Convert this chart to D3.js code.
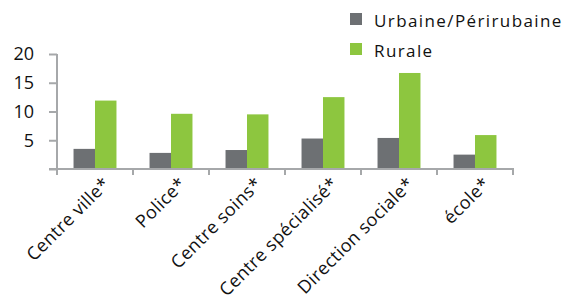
<!DOCTYPE html>
<html><head><meta charset="utf-8">
<script src="https://cdn.jsdelivr.net/npm/d3@7"></script>
<style>body{margin:0;background:#fff}svg{display:block}</style>
</head><body><svg id="c" width="568" height="303"></svg>
<script>
const categories = ["Centre ville*", "Police*", "Centre soins*", "Centre spécialisé*", "Direction sociale*", "école*"];
const seriesNames = ["Urbaine/Périrubaine", "Rurale"];
const urbaine = [3.5, 2.8, 3.3, 5.3, 5.4, 2.5];
const rurale = [11.9, 9.6, 9.5, 12.5, 16.7, 5.9];
const yTicks = [5, 10, 15, 20];
const colors = ["#6d7073", "#8dc63f"];

const font = "'Open Sans', sans-serif";
const svg = d3.select("#c");
const x0 = d3.scaleBand().domain(categories).range([57, 513]).paddingInner(0).paddingOuter(0);
const x1 = d3.scaleBand().domain(seriesNames).range([0, x0.bandwidth()]).paddingInner(0).paddingOuter(0.77);
const y = d3.scaleLinear().domain([0, 20]).range([169, 54]);
const axisColor = "#a6a8aa";

// bars
const data = categories.map((c, i) => ({c, vals: [urbaine[i], rurale[i]]}));
const g = svg.append("g");
g.selectAll("g.grp").data(data).join("g")
  .attr("transform", d => `translate(${x0(d.c)},0)`)
  .selectAll("rect").data(d => d.vals.map((v, j) => ({v, s: seriesNames[j], j})))
  .join("rect")
  .attr("x", d => x1(d.s)).attr("width", x1.bandwidth())
  .attr("y", d => y(d.v)).attr("height", d => y(0) - y(d.v))
  .attr("fill", d => colors[d.j]);

// y axis
const ya = svg.append("g").attr("transform", "translate(57,0)")
  .call(d3.axisLeft(y).tickValues([0, ...yTicks]).tickSize(8).tickPadding(15).tickFormat(d => d === 0 ? "" : d));
ya.select(".domain").attr("stroke", axisColor).attr("stroke-width", 2).attr("d", `M0,${y(20)}V${y(0)}`);
ya.selectAll(".tick line").attr("stroke", axisColor).attr("stroke-width", 2);
ya.selectAll(".tick text").attr("font-family", font).attr("font-size", 18).attr("font-weight", 500).attr("fill", "#111");

// x axis
const xa = svg.append("g").attr("transform", `translate(0,${y(0)})`);
xa.append("line").attr("x1", 49).attr("x2", 514).attr("stroke", axisColor).attr("stroke-width", 2);
const tickXs = categories.map(c => x0(c)).concat([x0(categories[categories.length - 1]) + x0.step()]);
xa.selectAll("line.t").data(tickXs).join("line").attr("class", "t")
  .attr("x1", d => d).attr("x2", d => d).attr("y1", 0).attr("y2", 6)
  .attr("stroke", axisColor).attr("stroke-width", 2);
xa.selectAll("text").data(categories).join("text")
  .attr("transform", d => `translate(${x0(d) + x0.bandwidth() / 2 + 16},${16}) rotate(-45)`)
  .attr("text-anchor", "end")
  .attr("font-family", font).attr("font-size", 18).attr("font-weight", 500)
  .attr("letter-spacing", 0.4).attr("fill", "#111")
  .text(d => d);

// legend
const leg = svg.append("g");
const ly = [13, 43];
seriesNames.forEach((s, i) => {
  leg.append("rect").attr("x", 350).attr("y", ly[i]).attr("width", 12).attr("height", 12).attr("fill", colors[i]);
  leg.append("text").attr("x", 374).attr("y", ly[i] + 13.5).attr("font-family", font).attr("font-size", 17)
    .attr("font-weight", 500).attr("letter-spacing", 1.4).attr("fill", "#111").text(s);
});
</script></body></html>
